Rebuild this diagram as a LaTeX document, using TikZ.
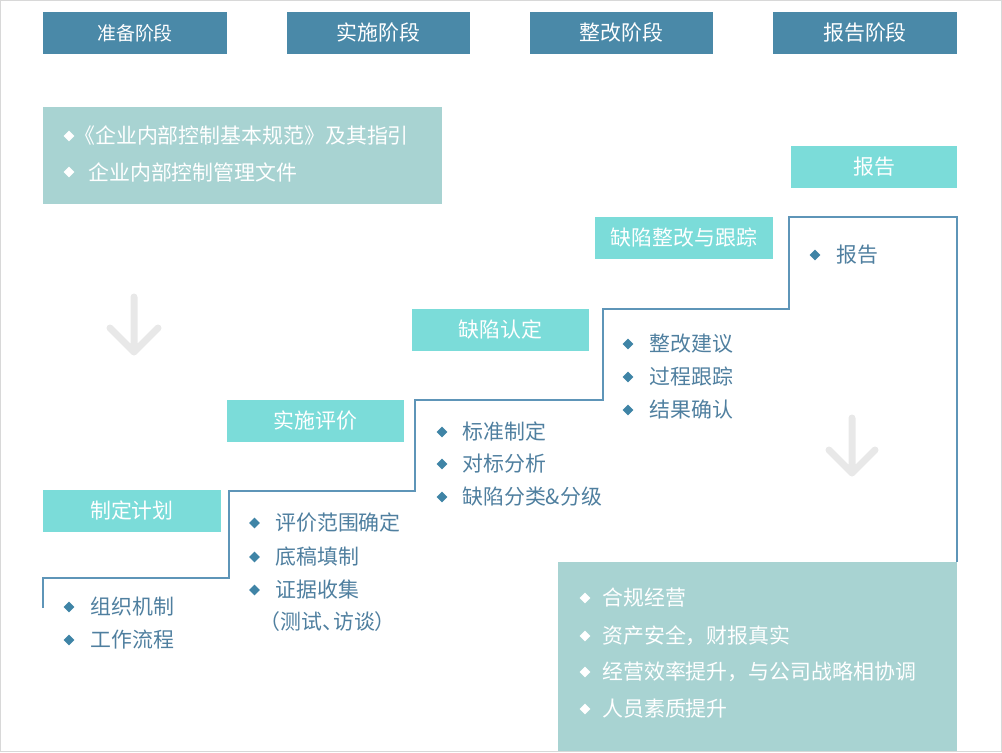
\documentclass[tikz,border=0pt]{standalone}
\usepackage{fontspec}
\setmainfont{Noto Sans CJK SC}
\usepackage{xcolor}
\usepackage{tikz}
\usetikzlibrary{shapes.geometric, positioning}
\definecolor{phaseblue}{HTML}{4A89A8}
\definecolor{stepcyan}{HTML}{7BDCD9}
\definecolor{paleteal}{HTML}{A8D3D2}
\definecolor{stairblue}{HTML}{5E95B8}
\definecolor{itemblue}{HTML}{4F7F9F}
\definecolor{dotblue}{HTML}{3F84A6}
\definecolor{softgray}{HTML}{E8E8E8}
\definecolor{framegray}{HTML}{D8D8D8}
\tikzset{
    phase/.style = {fill=phaseblue, text=white, inner sep=0pt,
        minimum width=3.68cm, minimum height=0.84cm},
    step_box/.style = {fill=stepcyan, text=white, inner sep=0pt,
        minimum width=3.56cm, minimum height=0.84cm},
    item/.style = {anchor=west, inner sep=0pt, text=itemblue},
    white_item/.style = {item, text=white},
    dot/.style = {diamond, fill=dotblue, inner sep=0pt,
        minimum width=0.22cm, minimum height=0.22cm},
    white_dot/.style = {dot, fill=white},
    stair/.style = {draw=stairblue, line width=0.85pt},
    soft_arrow/.style = {draw=softgray, line width=0.14cm,
        line cap=round, line join=round},
}

\begin{document}
\begin{tikzpicture}[x=0.02cm, y=-0.02cm, font=\fontsize{11.9pt}{14pt}\selectfont]
        \useasboundingbox (0,0) rectangle (1002,752);
        % phases
        \node [phase, font=\fontsize{10.8pt}{13pt}\selectfont] (prep) at (135,33) {准备阶段};
        \node [phase] (impl) at (378.5,33) {实施阶段};
        \node [phase] (rect) at (621.5,33) {整改阶段};
        \node [phase] (rept) at (865,33) {报告阶段};

        % basis box
        \fill [paleteal] (43,107) rectangle (442,204);
        \node [white_dot] (basis_d1) at (69,136) {};
        \node [white_item] (basis_t1) at (74,136) {《企业内部控制基本规范》及其指引};
        \node [white_dot] (basis_d2) at (69,172) {};
        \node [white_item] (basis_t2) at (88,172) {企业内部控制管理文件};

        % goals box
        \fill [paleteal] (558,562) rectangle (957,752);
        \foreach \txt/\y [count=\i] in {合规经营/598, 资产安全，财报真实/636,
                经营效率提升，与公司战略相协调/672, 人员素质提升/709} {
            \node [white_dot] (goal_d\i) at (585,\y) {};
            \node [white_item] (goal_t\i) at (602,\y) {\txt};
        }

        % arrows
        \draw [soft_arrow] (134,297) -- (134,352) (110,328) -- (134,352) -- (158,328);
        \draw [soft_arrow] (852,418) -- (852,473) (829,450) -- (852,473) -- (875,450);

        % stairs
        \draw [stair] (43,608) -- (43,578) -- (229,578) -- (229,491) -- (415,491)
            -- (415,400) -- (603,400) -- (603,309) -- (789,309) -- (789,217)
            -- (957,217) -- (957,562);

        % steps
        \node [step_box] (plan) at (132,511) {制定计划};
        \node [step_box] (eval) at (315.5,420.5) {实施评价};
        \node [step_box] (ident) at (500.5,330) {缺陷认定};
        \node [step_box] (track) at (684,238) {缺陷整改与跟踪};
        \node [step_box, minimum width=3.32cm] (report) at (874,167) {报告};

        % items
        \foreach \txt/\y [count=\i] in {组织机制/607, 工作流程/640} {
            \node [dot] (plan_d\i) at (69,\y) {};
            \node [item] (plan_t\i) at (90,\y) {\txt};
        }
        \foreach \txt/\y [count=\i] in {评价范围确定/523, 底稿填制/557, 证据收集/590} {
            \node [dot] (eval_d\i) at (254.5,\y) {};
            \node [item] (eval_t\i) at (275,\y) {\txt};
        }
        \node [item] (eval_t4) at (270,622) {\kern-0.5em（测试、\kern-0.5em访谈）};
        \foreach \txt/\y [count=\i] in {标准制定/432, 对标分析/464, 缺陷分类\&分级/497} {
            \node [dot] (ident_d\i) at (442,\y) {};
            \node [item] (ident_t\i) at (462,\y) {\txt};
        }
        \foreach \txt/\y [count=\i] in {整改建议/344, 过程跟踪/377, 结果确认/410} {
            \node [dot] (track_d\i) at (628,\y) {};
            \node [item] (track_t\i) at (649,\y) {\txt};
        }
        \node [dot] (report_d1) at (815,255) {};
        \node [item] (report_t1) at (836,255) {报告};

        \draw [framegray, line width=0.8pt] (0.5,0.5) rectangle (1001.5,751.5);
\end{tikzpicture}
\end{document}
